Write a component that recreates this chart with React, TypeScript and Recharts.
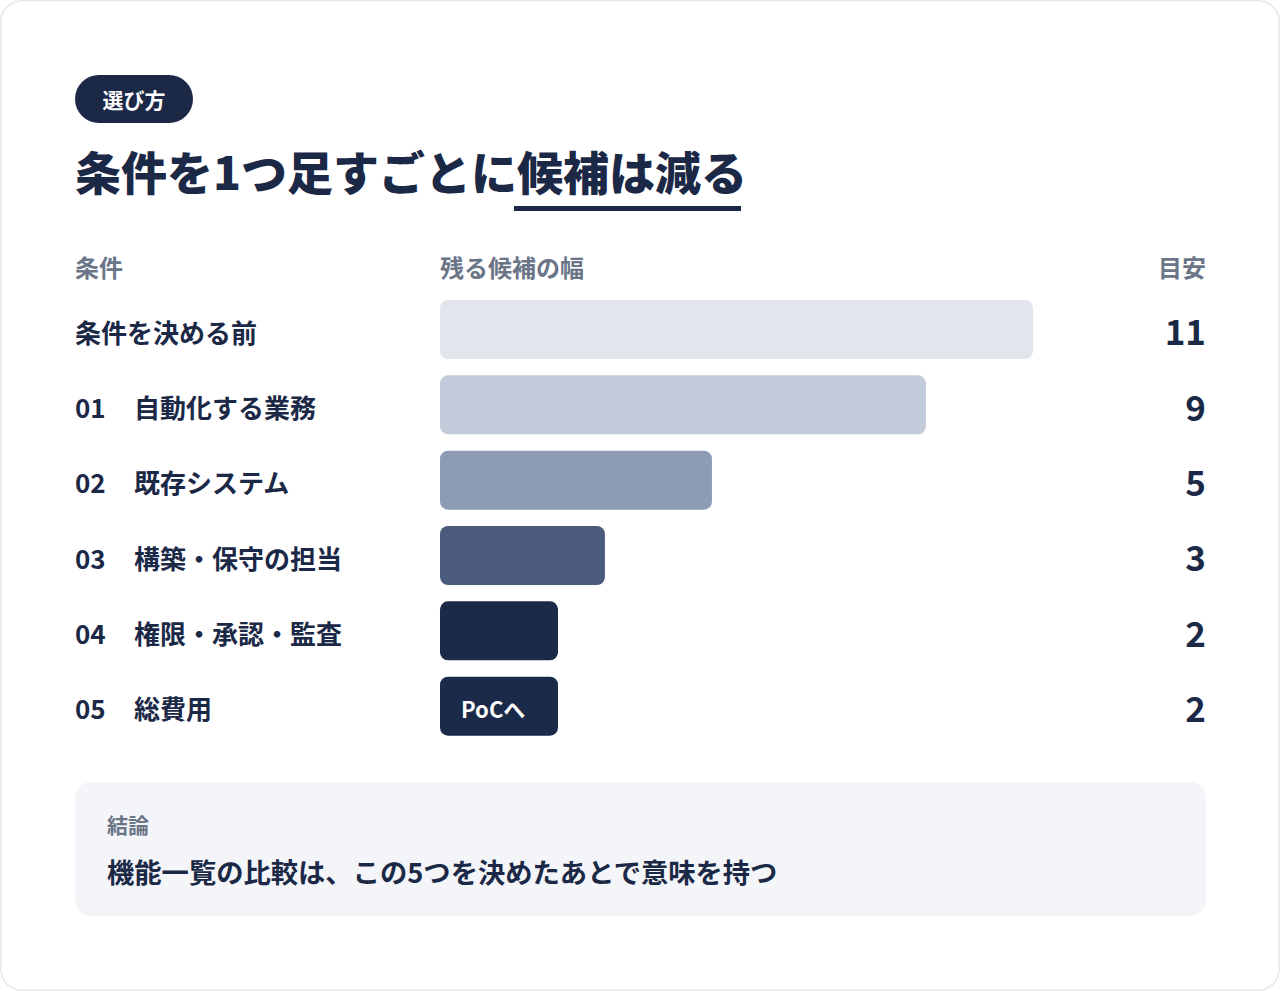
import { BarChart, Bar, XAxis, YAxis, Cell, LabelList } from "recharts"

const FONT = '"Noto Sans CJK JP", "Noto Sans", sans-serif'
const NAVY = "#1b2947"
const GRAY = "#6b7588"

// rows of the chart
const rowNos = ["", "01", "02", "03", "04", "05"]
const rowNames = [
  "条件を決める前",
  "自動化する業務",
  "既存システム",
  "構築・保守の担当",
  "権限・承認・監査",
  "総費用",
]
const counts = [11, 9, 5, 3, 2, 2]
const notes = ["", "", "", "", "", "PoCへ"]
const barColors = ["#e2e6ec", "#c3cad9", "#8d9bb4", "#4b5b7b", "#1c2a4a", "#1c2a4a"]

// bars start a little before zero so short bars keep some body
const X_MIN = -0.082
const X_MAX = 11

const data = rowNames.map((name, i) => ({
  name,
  no: rowNos[i],
  count: counts[i],
  note: notes[i],
}))

const CHART_W = 1131
const CHART_H = 452

function RowTick(props: any) {
  const { y, payload, index } = props
  const no = rowNos[index]
  return (
    <g fontFamily={FONT} fontWeight={700} fill={NAVY}>
      {no ? (
        <text x={0} y={y + 1.5} fontSize={26} dominantBaseline="central" fill={NAVY}>
          {no}
        </text>
      ) : null}
      <text x={no ? 59 : 0} y={y + 1.5} fontSize={26} dominantBaseline="central" fill={NAVY}>
        {payload.value}
      </text>
      <text
        x={CHART_W}
        y={y}
        fontSize={35}
        textAnchor="end"
        dominantBaseline="central"
        fill={NAVY}
      >
        {counts[index]}
      </text>
    </g>
  )
}

function NoteLabel(props: any) {
  const { x, y, height, value } = props
  if (!value) return null
  return (
    <text
      x={x + 21}
      y={y + height / 2 + 2}
      fill="#ffffff"
      fontFamily={FONT}
      fontWeight={700}
      fontSize={22}
      dominantBaseline="central"
    >
      {value}
    </text>
  )
}

export default function App() {
  return (
    <div
      style={{
        position: "relative",
        width: 1280,
        height: 991,
        boxSizing: "border-box",
        boxShadow: "inset 0 0 0 1.5px #e4e7ec",
        borderRadius: 22,
        background: "#ffffff",
        fontFamily: FONT,
        color: NAVY,
        overflow: "hidden",
      }}
    >
      <style>{`body{margin:0;background:#fff}`}</style>

      <div
        style={{
          position: "absolute",
          left: 75,
          top: 75,
          width: 118,
          height: 48,
          borderRadius: 24,
          background: NAVY,
          color: "#fff",
          fontSize: 21,
          fontWeight: 700,
          display: "flex",
          alignItems: "center",
          justifyContent: "center",
        }}
      >
        選び方
      </div>

      <div
        style={{
          position: "absolute",
          left: 75,
          top: 147,
          height: 46,
          lineHeight: "46px",
          fontSize: 46,
          fontWeight: 900,
          whiteSpace: "nowrap",
        }}
      >
        条件を1つ足すごとに候補は減る
      </div>
      <div
        style={{
          position: "absolute",
          left: 514,
          top: 206,
          width: 227,
          height: 5,
          background: NAVY,
        }}
      />

      <div style={{ position: "absolute", left: 75, top: 255, fontSize: 24, lineHeight: "24px", fontWeight: 700, color: GRAY }}>
        条件
      </div>
      <div style={{ position: "absolute", left: 440, top: 255, fontSize: 24, lineHeight: "24px", fontWeight: 700, color: GRAY }}>
        残る候補の幅
      </div>
      <div
        style={{
          position: "absolute",
          right: 1280 - 1206,
          top: 255,
          fontSize: 24,
          lineHeight: "24px",
          fontWeight: 700,
          color: GRAY,
        }}
      >
        目安
      </div>

      <div style={{ position: "absolute", left: 75, top: 292 }}>
        <BarChart
          width={CHART_W}
          height={CHART_H}
          data={data}
          layout="vertical"
          margin={{ top: 0, right: 173, bottom: 0, left: 0 }}
        >
          <XAxis type="number" domain={[X_MIN, X_MAX]} hide />
          <YAxis
            type="category"
            dataKey="name"
            width={365}
            axisLine={false}
            tickLine={false}
            tick={<RowTick />}
            interval={0}
          />
          <Bar
            dataKey={(d: any) => [X_MIN, d.count]}
            barSize={59}
            radius={8}
            minPointSize={118}
            isAnimationActive={false}
          >
            {data.map((d, i) => (
              <Cell key={d.name} fill={barColors[i]} />
            ))}
            <LabelList dataKey="note" content={<NoteLabel />} />
          </Bar>
        </BarChart>
      </div>

      <div
        style={{
          position: "absolute",
          left: 75,
          top: 782,
          width: 1131,
          height: 134,
          borderRadius: 16,
          background: "#f3f5f9",
        }}
      >
        <div
          style={{
            position: "absolute",
            left: 32,
            top: 32,
            fontSize: 21,
            lineHeight: "21px",
            fontWeight: 700,
            color: GRAY,
          }}
        >
          結論
        </div>
        <div
          style={{
            position: "absolute",
            left: 32,
            top: 75,
            fontSize: 27.3,
            lineHeight: "28px",
            fontWeight: 700,
            whiteSpace: "nowrap",
          }}
        >
          機能一覧の比較は、この5つを決めたあとで意味を持つ
        </div>
      </div>
    </div>
  )
}
